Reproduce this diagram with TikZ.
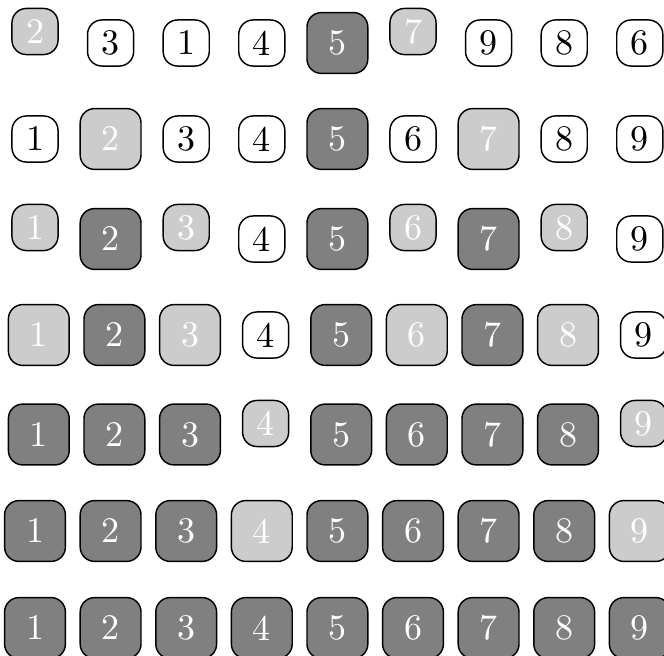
\documentclass[tikz,border=0pt]{standalone}
\usepackage{xcolor}
\usepackage{tikz}
\usetikzlibrary{positioning}
\definecolor{sortdone}{RGB}{128, 128, 128}
\definecolor{sortcmp}{RGB}{204, 204, 204}

\begin{document}
\begin{tikzpicture}[x=0.2778pt, y=-0.2778pt,
    cell/.style={draw=black, line width=0.4pt, rounded corners=4pt, minimum size=12.8pt, inner sep=0pt},
    bigcell/.style={cell, minimum size=16.9pt},
    plain/.style={cell, fill=white, text=black},
    cmp/.style={cell, fill=sortcmp, text=white},
    swap/.style={bigcell, fill=sortcmp, text=white},
    done/.style={bigcell, fill=sortdone, text=white}]
    \useasboundingbox (0,0) rectangle (664,655);

    % Pass 1
    \node[cmp]   (r1c1) at ( 35.0, 31.5) {2};
    \node[plain] (r1c2) at (110.6, 43.0) {3};
    \node[plain] (r1c3) at (186.2, 43.0) {1};
    \node[plain] (r1c4) at (261.8, 43.0) {4};
    \node[done]  (r1c5) at (337.4, 43.0) {5};
    \node[cmp]   (r1c6) at (413.0, 31.5) {7};
    \node[plain] (r1c7) at (488.6, 43.0) {9};
    \node[plain] (r1c8) at (564.2, 43.0) {8};
    \node[plain] (r1c9) at (639.8, 43.0) {6};

    % Pass 2
    \node[plain] (r2c1) at ( 35.0, 139.0) {1};
    \node[swap]  (r2c2) at (110.6, 139.0) {2};
    \node[plain] (r2c3) at (186.2, 139.0) {3};
    \node[plain] (r2c4) at (261.8, 139.0) {4};
    \node[done]  (r2c5) at (337.4, 139.0) {5};
    \node[plain] (r2c6) at (413.0, 139.0) {6};
    \node[swap]  (r2c7) at (488.6, 139.0) {7};
    \node[plain] (r2c8) at (564.2, 139.0) {8};
    \node[plain] (r2c9) at (639.8, 139.0) {9};

    % Pass 3
    \node[cmp]   (r3c1) at ( 35.0, 227.5) {1};
    \node[done]  (r3c2) at (110.6, 239.0) {2};
    \node[cmp]   (r3c3) at (186.2, 227.5) {3};
    \node[plain] (r3c4) at (261.8, 239.0) {4};
    \node[done]  (r3c5) at (337.4, 239.0) {5};
    \node[cmp]   (r3c6) at (413.0, 227.5) {6};
    \node[done]  (r3c7) at (488.6, 239.0) {7};
    \node[cmp]   (r3c8) at (564.2, 227.5) {8};
    \node[plain] (r3c9) at (639.8, 239.0) {9};

    % Pass 4
    \node[swap]  (r4c1) at ( 38.8, 335.0) {1};
    \node[done]  (r4c2) at (114.4, 335.0) {2};
    \node[swap]  (r4c3) at (190.0, 335.0) {3};
    \node[plain] (r4c4) at (265.6, 335.0) {4};
    \node[done]  (r4c5) at (341.2, 335.0) {5};
    \node[swap]  (r4c6) at (416.8, 335.0) {6};
    \node[done]  (r4c7) at (492.4, 335.0) {7};
    \node[swap]  (r4c8) at (568.0, 335.0) {8};
    \node[plain] (r4c9) at (643.6, 335.0) {9};

    % Pass 5
    \node[done]  (r5c1) at ( 38.8, 434.5) {1};
    \node[done]  (r5c2) at (114.4, 434.5) {2};
    \node[done]  (r5c3) at (190.0, 434.5) {3};
    \node[cmp]   (r5c4) at (265.6, 423.5) {4};
    \node[done]  (r5c5) at (341.2, 434.5) {5};
    \node[done]  (r5c6) at (416.8, 434.5) {6};
    \node[done]  (r5c7) at (492.4, 434.5) {7};
    \node[done]  (r5c8) at (568.0, 434.5) {8};
    \node[cmp]   (r5c9) at (643.6, 423.5) {9};

    % Pass 6
    \node[done]  (r6c1) at ( 35.0, 531.0) {1};
    \node[done]  (r6c2) at (110.6, 531.0) {2};
    \node[done]  (r6c3) at (186.2, 531.0) {3};
    \node[swap]  (r6c4) at (261.8, 531.0) {4};
    \node[done]  (r6c5) at (337.4, 531.0) {5};
    \node[done]  (r6c6) at (413.0, 531.0) {6};
    \node[done]  (r6c7) at (488.6, 531.0) {7};
    \node[done]  (r6c8) at (564.2, 531.0) {8};
    \node[swap]  (r6c9) at (639.8, 531.0) {9};

    % Sorted
    \node[done]  (r7c1) at ( 35.0, 628.0) {1};
    \node[done]  (r7c2) at (110.6, 628.0) {2};
    \node[done]  (r7c3) at (186.2, 628.0) {3};
    \node[done]  (r7c4) at (261.8, 628.0) {4};
    \node[done]  (r7c5) at (337.4, 628.0) {5};
    \node[done]  (r7c6) at (413.0, 628.0) {6};
    \node[done]  (r7c7) at (488.6, 628.0) {7};
    \node[done]  (r7c8) at (564.2, 628.0) {8};
    \node[done]  (r7c9) at (639.8, 628.0) {9};
\end{tikzpicture}
\end{document}
